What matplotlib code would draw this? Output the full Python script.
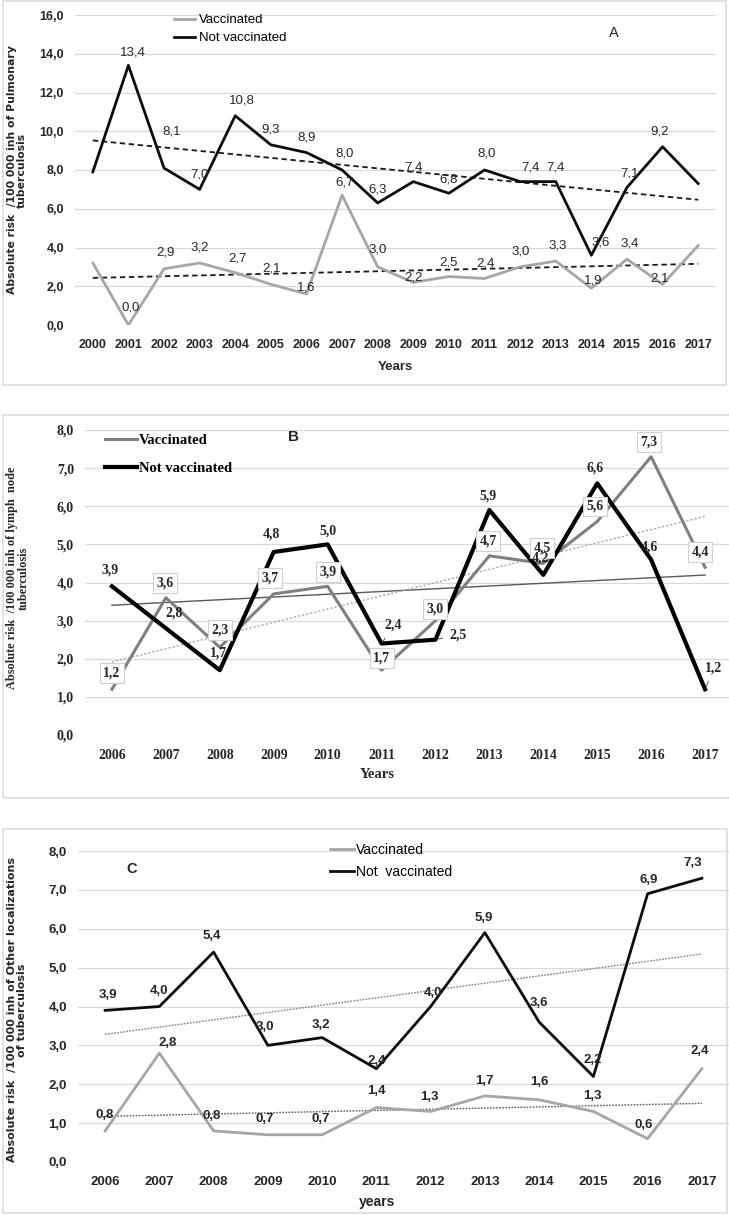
import numpy as np
import matplotlib
matplotlib.use("Agg")
import matplotlib.pyplot as plt
from matplotlib.patches import Rectangle

# ---------------- data ----------------
years_a = list(range(2000, 2018))
a_vacc = [3.2, 0.0, 2.9, 3.2, 2.7, 2.1, 1.6, 6.7, 3.0, 2.2, 2.5, 2.4, 3.0, 3.3, 1.9, 3.4, 2.1, 4.1]
a_notvacc = [7.9, 13.4, 8.1, 7.0, 10.8, 9.3, 8.9, 8.0, 6.3, 7.4, 6.8, 8.0, 7.4, 7.4, 3.6, 7.1, 9.2, 7.3]
a_yticks = [0, 2, 4, 6, 8, 10, 12, 14, 16]

years_b = list(range(2006, 2018))
b_vacc = [1.2, 3.6, 2.3, 3.7, 3.9, 1.7, 3.0, 4.7, 4.5, 5.6, 7.3, 4.4]
b_notvacc = [3.9, 2.8, 1.7, 4.8, 5.0, 2.4, 2.5, 5.9, 4.2, 6.6, 4.6, 1.2]
b_yticks = [0, 1, 2, 3, 4, 5, 6, 7, 8]

years_c = list(range(2006, 2018))
c_vacc = [0.8, 2.8, 0.8, 0.7, 0.7, 1.4, 1.3, 1.7, 1.6, 1.3, 0.6, 2.4]
c_notvacc = [3.9, 4.0, 5.4, 3.0, 3.2, 2.4, 4.0, 5.9, 3.6, 2.2, 6.9, 7.3]
c_yticks = [0, 1, 2, 3, 4, 5, 6, 7, 8]

# label offsets in pixels (dx, dy up) -- style only
a_nv_off = [None, (4, 13), (8, 37), (0, 15), (7, 15), (0, 15), (0, 15), (2, 16), (0, 13), (0, 14),
            (0, 14), (2, 16), (10, 14), (0, 14), (9, 13), (3, 14), (-3, 15), None]
a_v_off = [None, (2, 17), (1, 16), (0, 16), (2, 14), (1, 16), (0, 6), (2, 13), (0, 17), (0, 5),
           (0, 14), (1, 15), (1, 15), (2, 16), (2, 8), (3, 16), (-3, 6), None]

b_nv_off = [(-2, 16), (8, 15), (-1, 17), (-2, 18), (0, 13), (12, 18), (23, 5), (-1, 14),
            (-3, 17), (-2, 15), (-2, 13), (9, 21)]
b_v_off = [(0, 16), (-1, 15), (0, 17), (-4, 16), (0, 14), (0, 12), (0, 12), (-1, 15),
           (-1, 15), (-2, 15), (-2, 15), (-5, 15)]
b_nv_leader = [False, False, False, False, False, True, True, False, False, False, False, True]

c_nv_off = [(3, 15), (0, 16), (-2, 16), (-3, 18), (-1, 13), (0, 8), (2, 14), (-1, 15),
            (0, 19), (-1, 16), (1, 14), (-9, 15)]
c_v_off = [(0, 16), (8, 10), (-2, 15), (-3, 16), (-1, 16), (0, 17), (-1, 14), (-1, 15),
           (0, 18), (-1, 15), (-4, 14), (-2, 18)]

W, H = 729, 1215
fig = plt.figure(figsize=(W / 100, H / 100), dpi=100)

SANS = ['Liberation Sans', 'DejaVu Sans']
SERIF = ['Liberation Serif', 'DejaVu Serif']
TXT = '#262626'
GRID = '#d9d9d9'


def fmt(v):
    return f"{v:.1f}".replace('.', ',')


def axes_px(left, right, top, bottom):
    return fig.add_axes([left / W, 1 - bottom / H, (right - left) / W, (bottom - top) / H])


def frame(x0, x1, y0, y1):
    fig.patches.append(Rectangle((x0 / W, 1 - y1 / H), (x1 - x0) / W, (y1 - y0) / H,
                                 transform=fig.transFigure, fill=False, ec='#dcdcdc', lw=1.2))


def base(ax, years, yticks, fam, tsize, weight):
    n = len(years)
    ax.set_xlim(-0.5, n - 0.5)
    ax.set_ylim(yticks[0], yticks[-1])
    ax.set_yticks(yticks)
    ax.set_yticklabels([fmt(t) for t in yticks], family=fam, fontsize=tsize, weight=weight, color=TXT)
    ax.set_xticks(range(n))
    ax.set_xticklabels([str(y) for y in years], family=fam, fontsize=tsize, weight=weight, color=TXT)
    ax.tick_params(length=0, pad=8)
    ax.tick_params(axis='x', pad=10)
    for s in ax.spines.values():
        s.set_visible(False)
    ax.yaxis.grid(True, color=GRID, lw=0.9)
    ax.set_axisbelow(True)
    ax.patch.set_alpha(0)


def trend(ax, vals, **kw):
    x = np.arange(len(vals))
    k, b = np.polyfit(x, vals, 1)
    ax.plot([x[0], x[-1]], [b, k * x[-1] + b], **kw)


def labels(ax, vals, offs, fam, size, weight='normal', box=False, leader=None):
    for i, v in enumerate(vals):
        if offs[i] is None:
            continue
        dx, dy = offs[i]
        kw = {}
        if box:
            kw['bbox'] = dict(boxstyle='square,pad=0.25', fc='white', ec='#d0d0d0', lw=0.8)
        if leader is not None and leader[i]:
            kw['arrowprops'] = dict(arrowstyle='-', lw=0.6, color='#404040', shrinkA=3, shrinkB=1)
        ax.annotate(fmt(v), (i, v), xytext=(dx, dy), textcoords='offset pixels',
                    ha='center', va='center', family=fam, fontsize=size, weight=weight,
                    color=TXT, zorder=6, **kw)


def xlabel_at(ax, text, xc, yc, ax_left, ax_w, ax_bottom, ax_h, **kw):
    ax.set_xlabel(text, **kw)
    ax.xaxis.label.set_va('center')
    ax.xaxis.set_label_coords((xc - ax_left) / ax_w, -(yc - ax_bottom) / ax_h)


# ---------------- Panel A ----------------
frame(3, 726, 1, 385)
axA = axes_px(75, 716, 15, 325)
base(axA, years_a, a_yticks, SANS, 9, 'bold')
trend(axA, a_notvacc, color='#1a1a1a', lw=1.3, ls=(0, (3, 2)), zorder=3)
trend(axA, a_vacc, color='#1a1a1a', lw=1.3, ls=(0, (3, 2)), zorder=3)
axA.plot(a_vacc, color='#a6a6a6', lw=2.0, zorder=4, label='Vaccinated')
axA.plot(a_notvacc, color='#0d0d0d', lw=2.0, zorder=4, label='Not vaccinated')
labels(axA, a_notvacc, a_nv_off, SANS, 9.5)
labels(axA, a_vacc, a_v_off, SANS, 9.5)
axA.legend(loc='upper left', bbox_to_anchor=((174 - 75) / 641, (325 - 14) / 310), frameon=False,
           borderpad=0, borderaxespad=0, handlelength=1.6, handletextpad=0.3, labelspacing=0.45,
           prop=dict(family=SANS, size=9.5))
axA.text((614 - 75) / 641, (325 - 33) / 310, 'A', transform=axA.transAxes, ha='center', va='center',
         family=SANS, fontsize=10.5, color=TXT)
xlabel_at(axA, 'Years', 395, 367, 75, 641, 325, 310, family=SANS, fontsize=9.5, weight='bold', color=TXT)
axA.set_ylabel('Absolute risk  /100 000 inh of Pulmonary\ntuberculosis', family='DejaVu Sans',
               fontsize=7.8, weight='bold', color=TXT, linespacing=1.0)
axA.yaxis.set_label_coords(-(75 - 27) / 641, 0.5)

# ---------------- Panel B ----------------
frame(3, 735, 415, 798)
axB = axes_px(85, 732, 430, 735)
base(axB, years_b, b_yticks, SERIF, 10, 'bold')
trend(axB, b_notvacc, color='#595959', lw=1.0, zorder=3)
trend(axB, b_vacc, color='#a6a6a6', lw=1.0, ls=(0, (1.5, 1.5)), zorder=3)
axB.plot(b_vacc, color='#808080', lw=2.2, zorder=4, label='Vaccinated')
axB.plot(b_notvacc, color='#000000', lw=3.0, zorder=5, label='Not vaccinated')
labels(axB, b_vacc, b_v_off, SERIF, 10, weight='bold', box=True)
labels(axB, b_notvacc, b_nv_off, SERIF, 10, weight='bold', leader=b_nv_leader)
axB.legend(loc='upper left', bbox_to_anchor=((105 - 85) / 647, (735 - 434) / 305), frameon=False,
           borderpad=0, borderaxespad=0, handlelength=2.2, handletextpad=0.15, labelspacing=1.0,
           prop=dict(family=SERIF, size=10.5, weight='bold'))
axB.text((293 - 85) / 647, (735 - 437) / 305, 'B', transform=axB.transAxes, ha='center', va='center',
         family=SANS, fontsize=11, weight='bold', color=TXT)
xlabel_at(axB, 'Years', 377, 774, 85, 647, 735, 305, family=SERIF, fontsize=10.5, weight='bold', color=TXT)
axB.set_ylabel('Absolute risk  /100 000 inh of lymph  node\ntuberculosis', family=SERIF,
               fontsize=8.8, weight='bold', color=TXT, linespacing=1.0)
axB.yaxis.set_label_coords(-(85 - 30) / 647, (735 - 578) / 305)

# ---------------- Panel C ----------------
frame(3, 727, 829, 1213)
axC = axes_px(78, 729, 851, 1162)
base(axC, years_c, c_yticks, SANS, 9.5, 'bold')
trend(axC, c_notvacc, color='#7f7f7f', lw=1.0, ls=(0, (1.2, 1.0)), zorder=3)
trend(axC, c_vacc, color='#595959', lw=1.0, ls=(0, (1.2, 1.0)), zorder=3)
axC.plot(c_vacc, color='#a6a6a6', lw=2.0, zorder=4, label='Vaccinated')
axC.plot(c_notvacc, color='#0d0d0d', lw=2.0, zorder=4, label='Not  vaccinated')
labels(axC, c_notvacc, c_nv_off, SANS, 9.5, weight='bold')
labels(axC, c_vacc, c_v_off, SANS, 9.5, weight='bold')
axC.legend(loc='upper left', bbox_to_anchor=((330 - 78) / 651, (1162 - 843) / 311), frameon=False,
           borderpad=0, borderaxespad=0, handlelength=1.7, handletextpad=0.2, labelspacing=0.55,
           prop=dict(family=SANS, size=10))
axC.text((132 - 78) / 651, (1162 - 869) / 311, 'C', transform=axC.transAxes, ha='center', va='center',
         family=SANS, fontsize=10.5, weight='bold', color=TXT)
xlabel_at(axC, 'years', 377, 1202, 78, 651, 1162, 311, family=SANS, fontsize=10, weight='bold', color=TXT)
axC.set_ylabel('Absolute risk  /100 000 inh of Other localizations\nof tuberculosis', family='DejaVu Sans',
               fontsize=8.0, weight='bold', color=TXT, linespacing=1.0)
axC.yaxis.set_label_coords(-(78 - 27) / 651, (1162 - 1010) / 311)

fig.savefig('out.png', dpi=100)
